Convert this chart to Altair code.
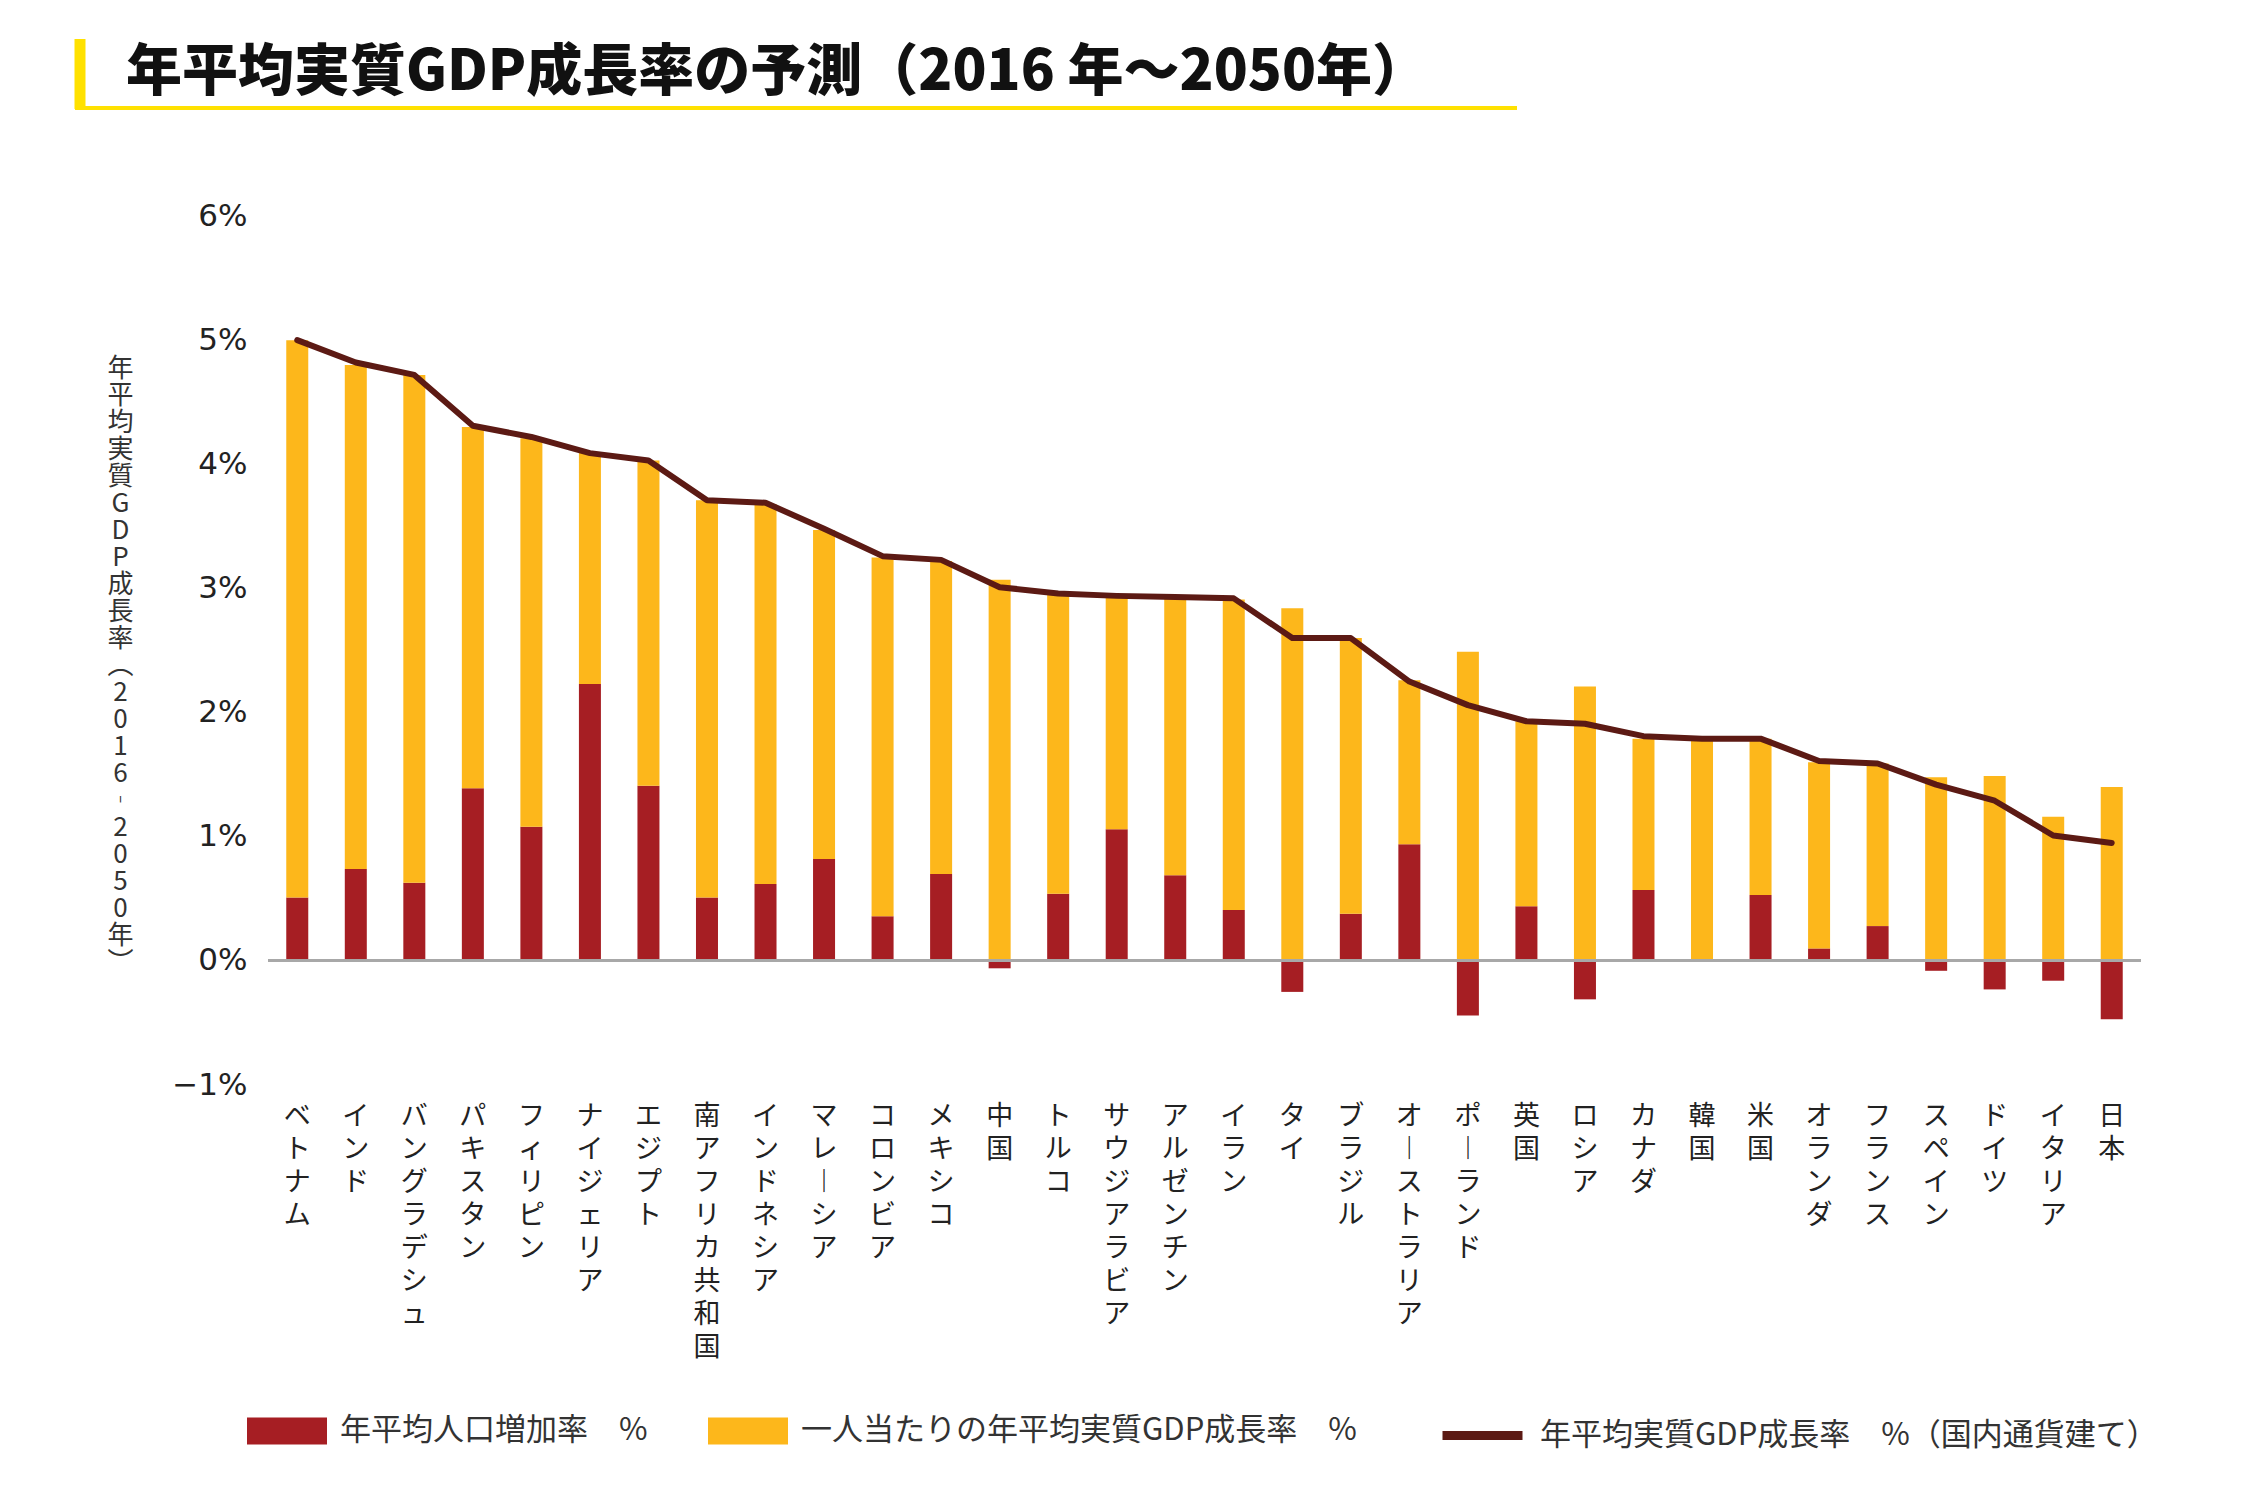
import altair as alt
import pandas as pd

# ---------------- data ----------------
countries = ["ベトナム", "インド", "バングラデシュ", "パキスタン", "フィリピン", "ナイジェリア",
             "エジプト", "南アフリカ共和国", "インドネシア", "マレーシア", "コロンビア", "メキシコ",
             "中国", "トルコ", "サウジアラビア", "アルゼンチン", "イラン", "タイ", "ブラジル",
             "オーストラリア", "ポーランド", "英国", "ロシア", "カナダ", "韓国", "米国",
             "オランダ", "フランス", "スペイン", "ドイツ", "イタリア", "日本"]

pop_growth = [0.51, 0.74, 0.63, 1.39, 1.08, 2.23, 1.41, 0.51, 0.62, 0.82, 0.36, 0.70,
              -0.06, 0.54, 1.06, 0.69, 0.41, -0.25, 0.38, 0.94, -0.44, 0.44, -0.31, 0.57,
              0.00, 0.53, 0.10, 0.28, -0.08, -0.23, -0.16, -0.47]

per_capita = [4.49, 4.06, 4.09, 2.91, 3.13, 1.86, 2.62, 3.20, 3.06, 2.65, 2.89, 2.52,
              3.07, 2.43, 1.88, 2.23, 2.50, 2.84, 2.22, 1.32, 2.49, 1.49, 2.21, 1.22,
              1.79, 1.26, 1.50, 1.31, 1.48, 1.49, 1.16, 1.40]

total_growth = [5.00, 4.82, 4.72, 4.31, 4.22, 4.09, 4.03, 3.71, 3.69, 3.48, 3.26, 3.23,
                3.01, 2.96, 2.94, 2.93, 2.92, 2.60, 2.60, 2.25, 2.06, 1.93, 1.91, 1.81,
                1.79, 1.79, 1.61, 1.59, 1.42, 1.29, 1.01, 0.95]

y_ticks = [-1, 0, 1, 2, 3, 4, 5, 6]

POP_LABEL = "年平均人口増加率　%"
PC_LABEL = "一人当たりの年平均実質GDP成長率　%"
TOT_LABEL = "年平均実質GDP成長率　%（国内通貨建て）"
TITLE = "年平均実質GDP成長率の予測（2016 年～2050年）"
Y_TITLE = ["年", "平", "均", "実", "質", "G", "D", "P", "成", "長", "率", "︵",
           "2", "0", "1", "6", "︲", "2", "0", "5", "0", "年", "︶"]

RED = "#A61E23"
YELLOW = "#FDB71B"
BROWN = "#5C1A14"
GRAY = "#A8A8A8"
HEAD_YELLOW = "#FFE100"
JP = "Noto Sans CJK JP"

n = len(countries)
bars_df = pd.DataFrame({
    "country": countries * 2,
    "series": [POP_LABEL] * n + [PC_LABEL] * n,
    "value": pop_growth + per_capita,
    "ord": [0] * n + [1] * n,
})
line_df = pd.DataFrame({"country": countries, "total": total_growth, "series": [TOT_LABEL] * n})

W, H = 1873, 869

x_enc = alt.X(
    "country:N", sort=countries,
    scale=alt.Scale(paddingInner=0.624, paddingOuter=0.312),
    axis=alt.Axis(
        title=None,
        labelExpr="split(replace(datum.label, regexp('ー', 'g'), '︱'), '')",
        labelAngle=0, labelAlign="center", labelBaseline="top",
        labelLineHeight=33, labelFontSize=27, labelFont=JP, labelColor="#222",
        labelPadding=18, ticks=False, tickSize=0, domain=False,
        labelOverlap=False, labelBound=False, labelLimit=1000,
    ),
)

y_scale = alt.Scale(domain=[-1, 6], nice=False, zero=False)
y_axis = alt.Axis(
    values=y_ticks,
    labelExpr="(datum.value < 0 ? '−' + abs(datum.value) : datum.value) + '%'",
    labelFont="DejaVu Sans", labelFontSize=31, labelColor="#222", labelPadding=21,
    ticks=False, tickSize=0, domain=False, grid=False,
    title=Y_TITLE, titleAngle=0, titleX=-148, titleY=152,
    titleAlign="center", titleBaseline="middle", titleLineHeight=27,
    titleFontSize=26, titleFont=JP, titleFontWeight="normal", titleColor="#333",
)

bars = alt.Chart(bars_df).mark_bar().encode(
    x=x_enc,
    y=alt.Y("value:Q", stack="zero", scale=y_scale, axis=y_axis),
    color=alt.Color(
        "series:N",
        scale=alt.Scale(domain=[POP_LABEL, PC_LABEL], range=[RED, YELLOW]),
        legend=alt.Legend(
            title=None, orient="none", legendX=-21, legendY=1175, direction="horizontal",
            symbolType="M-1,-0.34H1V0.34H-1Z", symbolSize=6400, symbolStrokeWidth=0,
            symbolOpacity=1, labelFontSize=31, labelFont=JP, labelColor="#333",
            labelOffset=13, columnPadding=60, labelLimit=1000,
        ),
    ),
    order=alt.Order("ord:Q"),
)

zero_rule = alt.Chart(bars_df).mark_rule(color=GRAY, strokeWidth=2.5).encode(
    y=alt.datum(0, scale=y_scale, axis=y_axis)
)

line = alt.Chart(line_df).mark_line(strokeWidth=6, strokeCap="round", strokeJoin="round").encode(
    x=x_enc,
    y=alt.Y("total:Q", scale=y_scale, axis=y_axis),
    stroke=alt.Stroke(
        "series:N",
        scale=alt.Scale(domain=[TOT_LABEL], range=[BROWN]),
        legend=alt.Legend(
            title=None, orient="none", legendX=1170, legendY=1175, direction="horizontal",
            symbolType="stroke", symbolSize=6400, symbolStrokeWidth=9,
            labelFontSize=31, labelFont=JP, labelColor="#333", labelOffset=13,
            labelLimit=1000,
        ),
    ),
)

one = alt.InlineData(values=[{"k": 0}])

title_text = alt.Chart(one).mark_text(
    align="left", baseline="middle", fontSize=56, font=JP, fontWeight=900, color="#111"
).encode(x=alt.value(-142), y=alt.value(-143), text=alt.value(TITLE))

head_bar = alt.Chart(one).mark_rule(color=HEAD_YELLOW, strokeWidth=11).encode(
    x=alt.value(-188), y=alt.value(-177), y2=alt.value(-107)
)
head_line = alt.Chart(one).mark_rule(color=HEAD_YELLOW, strokeWidth=4).encode(
    x=alt.value(-193), x2=alt.value(1249), y=alt.value(-108)
)

chart = alt.layer(bars, zero_rule, line, head_bar, head_line, title_text).resolve_scale(
    color="independent"
).properties(
    width=W, height=H,
    autosize=alt.AutoSizeParams(type="none"),
    padding={"left": 260, "top": 208, "right": 90, "bottom": 400},
    background="white",
).configure_view(strokeWidth=0)

chart.save("out.html", embed_options={"renderer": "svg", "actions": False})
